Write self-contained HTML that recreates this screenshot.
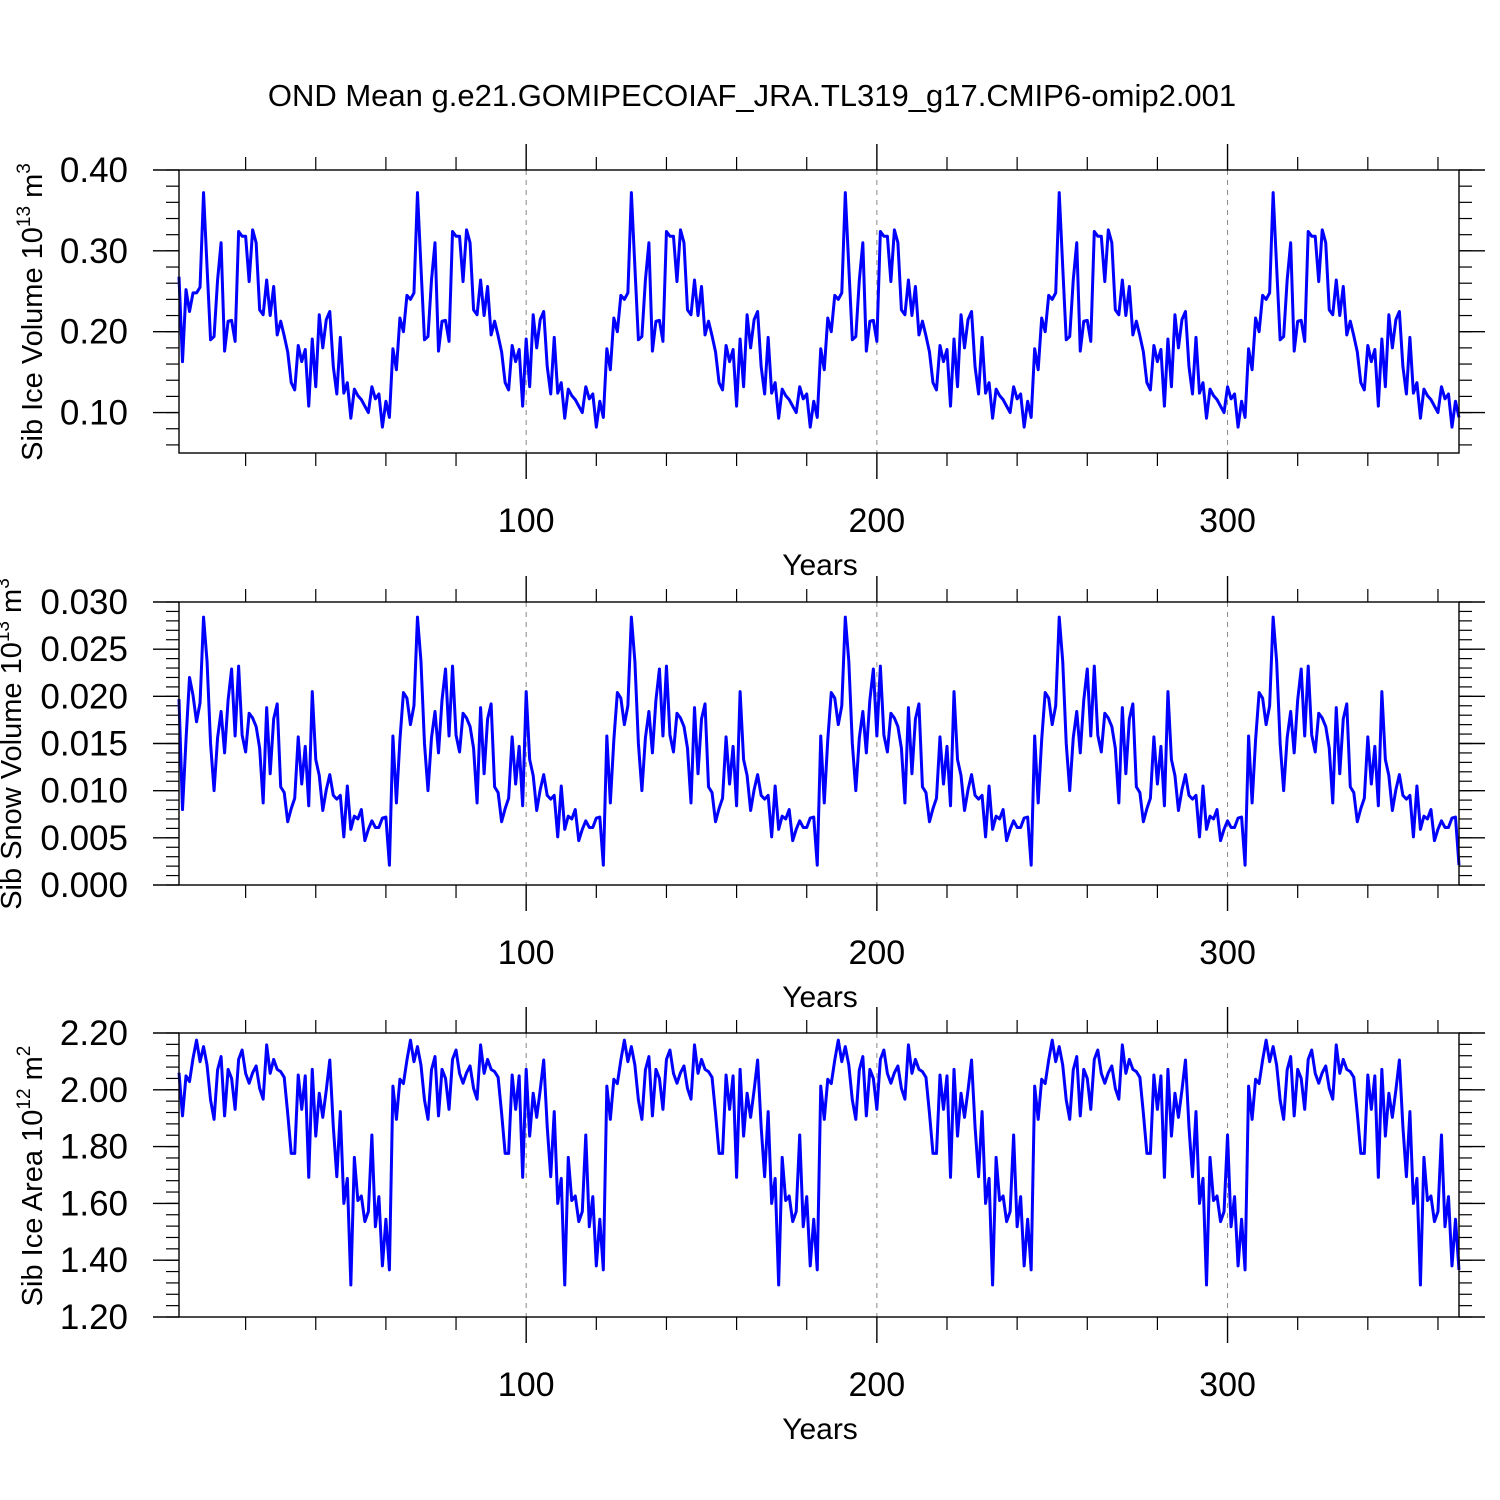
<!DOCTYPE html>
<html><head><meta charset="utf-8">
<style>
html,body{margin:0;padding:0;background:#fff;}
svg{display:block;font-family:"Liberation Sans",Arial,sans-serif;}
</style></head>
<body>
<svg id="chart" width="1500" height="1500" viewBox="0 0 1500 1500" xmlns="http://www.w3.org/2000/svg">
<rect x="0" y="0" width="1500" height="1500" fill="#fff"/>
<text x="752" y="106" font-size="31" text-anchor="middle">OND Mean g.e21.GOMIPECOIAF_JRA.TL319_g17.CMIP6-omip2.001</text>
</svg>
<script>
// ---- data (61-year repeating forcing cycle) ----
const iceVolCycle1 = [0.268,0.163,0.252,0.225,0.248,0.248,0.255,0.372,0.280,0.190,0.194,0.264,0.310,0.176,0.213,0.214,0.188,0.324,0.318,0.318,0.262,0.326,0.310,0.227,0.221,0.264,0.220,0.256,0.196,0.213,0.195,0.175,0.137,0.128,0.183,0.163,0.178,0.108,0.191,0.132,0.221,0.180,0.215,0.225,0.157,0.123,0.193,0.124,0.137,0.093,0.129,0.121,0.116,0.108,0.100,0.132,0.117,0.123,0.082,0.114,0.094];
const iceVolCycleN = [0.179,0.153,0.217,0.200,0.245,0.240,0.248,0.372,0.280,0.190,0.194,0.264,0.310,0.176,0.213,0.214,0.188,0.324,0.318,0.318,0.262,0.326,0.310,0.227,0.221,0.264,0.220,0.256,0.196,0.213,0.195,0.175,0.137,0.128,0.183,0.163,0.178,0.108,0.191,0.132,0.221,0.180,0.215,0.225,0.157,0.123,0.193,0.124,0.137,0.093,0.129,0.121,0.116,0.108,0.100,0.132,0.117,0.123,0.082,0.114,0.094];
const snowVolCycle1 = [0.0197,0.0080,0.0154,0.0220,0.0201,0.0173,0.0193,0.0284,0.0237,0.0150,0.0100,0.0156,0.0184,0.0140,0.0196,0.0229,0.0158,0.0232,0.0159,0.0141,0.0182,0.0177,0.0168,0.0145,0.0087,0.0188,0.0118,0.0176,0.0192,0.0104,0.0098,0.0067,0.0081,0.0092,0.0157,0.0107,0.0147,0.0084,0.0205,0.0133,0.0116,0.0079,0.0101,0.0117,0.0095,0.0091,0.0095,0.0051,0.0105,0.0059,0.0073,0.0070,0.0080,0.0047,0.0059,0.0068,0.0061,0.0061,0.0071,0.0072,0.0021];
const snowVolCycleN = [0.0158,0.0087,0.0154,0.0204,0.0198,0.0170,0.0190,0.0284,0.0237,0.0150,0.0100,0.0156,0.0184,0.0140,0.0196,0.0229,0.0158,0.0232,0.0159,0.0141,0.0182,0.0177,0.0168,0.0145,0.0087,0.0188,0.0118,0.0176,0.0192,0.0104,0.0098,0.0067,0.0081,0.0092,0.0157,0.0107,0.0147,0.0084,0.0205,0.0133,0.0116,0.0079,0.0101,0.0117,0.0095,0.0091,0.0095,0.0051,0.0105,0.0059,0.0073,0.0070,0.0080,0.0047,0.0059,0.0068,0.0061,0.0061,0.0071,0.0072,0.0021];
const iceAreaCycle1 = [2.060,1.908,2.049,2.029,2.111,2.175,2.099,2.152,2.087,1.964,1.896,2.070,2.117,1.908,2.072,2.040,1.931,2.107,2.140,2.058,2.023,2.060,2.084,2.005,1.967,2.158,2.058,2.107,2.072,2.064,2.044,1.917,1.776,1.776,2.052,1.931,2.049,1.692,2.072,1.837,1.988,1.903,1.999,2.105,1.870,1.694,1.923,1.600,1.688,1.313,1.762,1.610,1.626,1.536,1.571,1.841,1.518,1.624,1.380,1.544,1.366];
const iceAreaCycleN = [2.013,1.896,2.037,2.022,2.105,2.175,2.099,2.152,2.087,1.964,1.896,2.070,2.117,1.908,2.072,2.040,1.931,2.107,2.140,2.058,2.023,2.060,2.084,2.005,1.967,2.158,2.058,2.107,2.072,2.064,2.044,1.917,1.776,1.776,2.052,1.931,2.049,1.692,2.072,1.837,1.988,1.903,1.999,2.105,1.870,1.694,1.923,1.600,1.688,1.313,1.762,1.610,1.626,1.536,1.571,1.841,1.518,1.624,1.380,1.544,1.366];
const iceVol = [].concat(iceVolCycle1, iceVolCycleN, iceVolCycleN, iceVolCycleN, iceVolCycleN, iceVolCycleN);
const snowVol = [].concat(snowVolCycle1, snowVolCycleN, snowVolCycleN, snowVolCycleN, snowVolCycleN, snowVolCycleN);
const iceArea = [].concat(iceAreaCycle1, iceAreaCycleN, iceAreaCycleN, iceAreaCycleN, iceAreaCycleN, iceAreaCycleN);
const firstYear = 1;
const xTickValues = [100, 200, 300];
const xTickLabels = ["100", "200", "300"];
const iceVolTicks = [0.10, 0.20, 0.30, 0.40];
const iceVolTickLabels = ["0.10", "0.20", "0.30", "0.40"];
const snowVolTicks = [0.000, 0.005, 0.010, 0.015, 0.020, 0.025, 0.030];
const snowVolTickLabels = ["0.000", "0.005", "0.010", "0.015", "0.020", "0.025", "0.030"];
const iceAreaTicks = [1.20, 1.40, 1.60, 1.80, 2.00, 2.20];
const iceAreaTickLabels = ["1.20", "1.40", "1.60", "1.80", "2.00", "2.20"];

const NS = "http://www.w3.org/2000/svg";
const svg = document.getElementById('chart');
function mk(tag, attrs, parent) {
  const e = document.createElementNS(NS, tag);
  for (const k in attrs) e.setAttribute(k, attrs[k]);
  (parent || svg).appendChild(e);
  return e;
}
const X0 = 179, X1 = 1459, XMIN = 1, XMAX = 366;
function xScale(v) { return X0 + (v - XMIN) / (XMAX - XMIN) * (X1 - X0); }

function panel(cfg) {
  const g = mk('g', {});
  
  
  const yS = v => cfg.y1 - (v - cfg.ymin) / (cfg.ymax - cfg.ymin) * (cfg.y1 - cfg.y0);
  xTickValues.forEach(v => {
    const l = mk('line', {x1: xScale(v), x2: xScale(v), y1: cfg.y0, y2: cfg.y1, stroke: '#888', 'stroke-width': 1, 'stroke-dasharray': '5,5'}, g);
    
    
  });
  for (let v = 20; v <= 360; v += 20) {
    if (v % 100 === 0) continue;
    const x = xScale(v);
    mk('line', {x1: x, x2: x, y1: cfg.y0, y2: cfg.y0 - 13, stroke: '#000', 'stroke-width': 1.2}, g);
    mk('line', {x1: x, x2: x, y1: cfg.y1, y2: cfg.y1 + 13, stroke: '#000', 'stroke-width': 1.2}, g);
  }
  xTickValues.forEach((v, i) => {
    const x = xScale(v);
    mk('line', {x1: x, x2: x, y1: cfg.y0, y2: cfg.y0 - 26, stroke: '#000', 'stroke-width': 1.4}, g);
    mk('line', {x1: x, x2: x, y1: cfg.y1, y2: cfg.y1 + 26, stroke: '#000', 'stroke-width': 1.4}, g);
    const t = mk('text', {x: x, y: cfg.y1 + 79, 'font-size': 34, 'text-anchor': 'middle'}, g);
    t.textContent = xTickLabels[i];
    
    
  });
  const xt = mk('text', {x: 820, y: cfg.y1 + 122, 'font-size': 30, 'text-anchor': 'middle'}, g);
  xt.textContent = 'Years';
  
  
  const kStart = Math.ceil(cfg.ymin / cfg.minor - 1e-6);
  const kEnd = Math.floor(cfg.ymax / cfg.minor + 1e-6);
  for (let k = kStart; k <= kEnd; k++) {
    const y = yS(k * cfg.minor);
    mk('line', {x1: X0, x2: X0 - 13, y1: y, y2: y, stroke: '#000', 'stroke-width': 1.2}, g);
    mk('line', {x1: X1, x2: X1 + 13, y1: y, y2: y, stroke: '#000', 'stroke-width': 1.2}, g);
  }
  cfg.ticks.forEach((v, i) => {
    const y = yS(v);
    mk('line', {x1: X0, x2: X0 - 26, y1: y, y2: y, stroke: '#000', 'stroke-width': 1.4}, g);
    mk('line', {x1: X1, x2: X1 + 26, y1: y, y2: y, stroke: '#000', 'stroke-width': 1.4}, g);
    const t = mk('text', {x: 128, y: y + 12, 'font-size': 35, 'text-anchor': 'end'}, g);
    t.textContent = cfg.labels[i];
    
    
  });
  const pts = cfg.data.map((v, i) => xScale(firstYear + i).toFixed(2) + ',' + yS(v).toFixed(2)).join(' ');
  const pl = mk('polyline', {points: pts, fill: 'none', stroke: '#0000ff', 'stroke-width': 3, 'stroke-linejoin': 'round'}, g);
  
  
  const fr = mk('rect', {x: X0, y: cfg.y0, width: X1 - X0, height: cfg.y1 - cfg.y0, fill: 'none', stroke: '#000', 'stroke-width': 1.4}, g);
  
  
  const yt = mk('text', {x: 0, y: 0, 'font-size': 29, 'text-anchor': 'middle', transform: 'translate(' + cfg.tx + ',' + cfg.ty + ') rotate(-90)'}, g);
  
  
  yt.innerHTML = cfg.title + ' 10<tspan dy="-12" font-size="19">' + cfg.exp + '</tspan><tspan dy="12"> m</tspan><tspan dy="-12" font-size="19">' + cfg.unitExp + '</tspan>';
}

panel({name: 'ice-volume-panel', y0: 170, y1: 453, ymin: 0.05, ymax: 0.40, minor: 0.02, ticks: iceVolTicks, labels: iceVolTickLabels, data: iceVol, title: 'Sib Ice Volume', exp: '13', unitExp: '3', tx: 42, ty: 312});
panel({name: 'snow-volume-panel', y0: 602, y1: 885, ymin: 0.0, ymax: 0.030, minor: 0.001, ticks: snowVolTicks, labels: snowVolTickLabels, data: snowVol, title: 'Sib Snow Volume', exp: '13', unitExp: '3', tx: 21, ty: 744});
panel({name: 'ice-area-panel', y0: 1033, y1: 1317, ymin: 1.20, ymax: 2.20, minor: 0.04, ticks: iceAreaTicks, labels: iceAreaTickLabels, data: iceArea, title: 'Sib Ice Area', exp: '12', unitExp: '2', tx: 42, ty: 1176});
</script>
</body></html>
